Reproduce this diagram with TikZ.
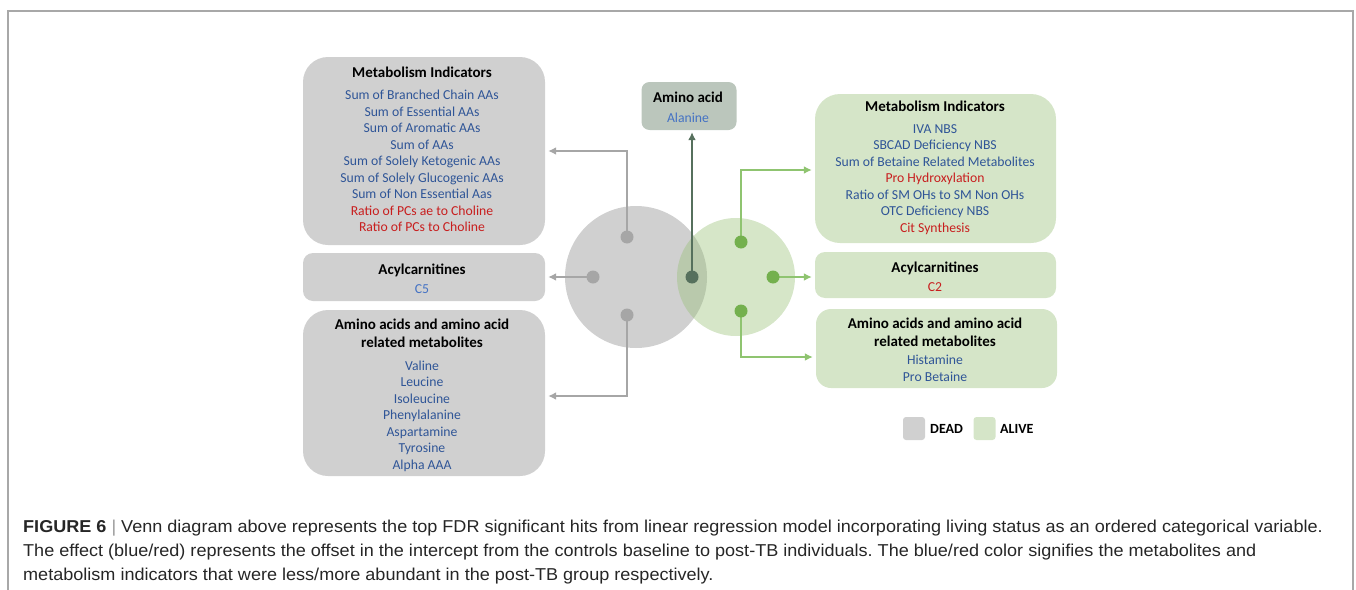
\documentclass[tikz,border=0pt]{standalone}
\usepackage{fontspec}
\setmainfont{Carlito}
\newfontfamily\capfont[FakeStretch=1.05]{Liberation Sans}
\usetikzlibrary{arrows.meta,calc}
\definecolor{boxgray}{HTML}{D0D0D0}
\definecolor{boxgreen}{HTML}{D5E5C8}
\definecolor{circgreen}{RGB}{152,192,118}
\definecolor{aminobox}{HTML}{BBC6BC}
\definecolor{arrgray}{HTML}{A6A6A6}
\definecolor{arrgreen}{HTML}{8FC470}
\definecolor{dotgreen}{HTML}{74B04E}
\definecolor{darkgreen}{HTML}{56705D}
\definecolor{tblue}{HTML}{2F5597}
\definecolor{lblue}{HTML}{4472C4}
\definecolor{tred}{HTML}{C81E1E}
\definecolor{framec}{HTML}{A8A8A8}
\definecolor{captext}{HTML}{262626}
\frenchspacing
\begin{document}
\begin{tikzpicture}[x=1pt,y=-1pt,
  panel/.style={draw=none, inner sep=0pt},
  boxtext/.style={align=center, inner sep=0pt, anchor=north, text=tblue,
    font=\fontsize{13.7}{16.5}\selectfont},
  garrow/.style={draw=arrgray, line width=2.8pt, -{Latex[length=8pt,width=8pt]}},
  greenarrow/.style={draw=arrgreen, line width=2.6pt, -{Latex[length=8pt,width=8pt]}},
  darrow/.style={draw=darkgreen, line width=2.8pt, -{Latex[length=8pt,width=8pt]}},
  dotnode/.style={circle, inner sep=0pt, minimum size=13pt},
  swatch/.style={rounded corners=3pt, minimum width=22pt, minimum height=23pt, inner sep=0pt},
  legtext/.style={anchor=west, inner sep=0pt, font=\bfseries\fontsize{14}{16}\selectfont},
  captionline/.style={anchor=base west, inner sep=0pt, text=captext,
    font=\capfont\fontsize{17.2}{24}\selectfont}
]
\newcommand{\bt}[1]{{\color{black}\bfseries\fontsize{15}{16.5}\selectfont #1}}
\useasboundingbox (0,0) rectangle (1356,589);
% frame
\draw[framec, line width=1.3pt] (8,592) -- (8,11) -- (1353,11) -- (1353,592);

% boxes
\node[panel, fill=boxgray, rounded corners=25pt, minimum width=242pt, minimum height=188pt] (lmB) at (424,151) {};
\node[panel, fill=boxgray, rounded corners=10pt, minimum width=242pt, minimum height=48pt] (laB) at (424,277) {};
\node[panel, fill=boxgray, rounded corners=25pt, minimum width=242pt, minimum height=166pt] (lbB) at (424,393) {};
\node[panel, fill=aminobox, rounded corners=8pt, minimum width=95pt, minimum height=48pt] (acB) at (689,106) {};
\node[panel, fill=boxgreen, rounded corners=25pt, minimum width=241pt, minimum height=149pt] (rmB) at (935.5,168.5) {};
\node[panel, fill=boxgreen, rounded corners=10pt, minimum width=241pt, minimum height=46pt] (raB) at (935.5,275) {};
\node[panel, fill=boxgreen, rounded corners=15pt, minimum width=241pt, minimum height=79pt] (rbB) at (936.5,348.5) {};

% texts
\node[boxtext] (lmT) at (422,66.5) {\bt{Metabolism Indicators}\\[6pt]
Sum of Branched Chain AAs\\ Sum of Essential AAs\\ Sum of Aromatic AAs\\ Sum of AAs\\
Sum of Solely Ketogenic AAs\\ Sum of Solely Glucogenic AAs\\ Sum of Non Essential Aas\\
{\color{tred}Ratio of PCs ae to Choline}\\ {\color{tred}Ratio of PCs to Choline}};
\node[boxtext] (laT) at (422,263.5) {\bt{Acylcarnitines}\\[2.5pt]
{\color{lblue}C5}};
\node[boxtext] (lbT) at (422,318.5) {\bt{Amino acids and amino acid}\\[1.5pt]
\bt{related metabolites}\\[6.5pt]
Valine\\ Leucine\\ Isoleucine\\ Phenylalanine\\ Aspartamine\\ Tyrosine\\ Alpha AAA};
\node[boxtext] (acT) at (688,91.5) {\bt{Amino acid}\\[3.5pt]
{\color{lblue}Alanine}};
\node[boxtext] (rmT) at (935,100.5) {\bt{Metabolism Indicators}\\[5.5pt]
IVA NBS\\ SBCAD Deficiency NBS\\ Sum of Betaine Related Metabolites\\
{\color{tred}Pro Hydroxylation}\\ Ratio of SM OHs to SM Non OHs\\ OTC Deficiency NBS\\
{\color{tred}Cit Synthesis}};
\node[boxtext] (raT) at (935,261.5) {\bt{Acylcarnitines}\\[2.5pt]
{\color{tred}C2}};
\node[boxtext] (rbT) at (935,317.5) {\bt{Amino acids and amino acid}\\[1.5pt]
\bt{related metabolites}\\[1.5pt]
Histamine\\[0.5pt] Pro Betaine};

% Venn circles
\fill[boxgray] (636,277) circle[radius=71pt];
\fill[circgreen, fill opacity=0.4] (736,277) circle[radius=59pt];

% dot positions
\coordinate (g1) at (627,237);
\coordinate (g2) at (593,277);
\coordinate (g3) at (627,315);
\coordinate (c1) at (692,277);
\coordinate (r1) at (741,242);
\coordinate (r2) at (773,277);
\coordinate (r3) at (741,311);

% connectors
\draw[garrow] (g1) |- ($(lmB.east)+(3,0)$);
\draw[garrow] (g2) -- ($(g2 -| laB.east)+(3,0)$);
\draw[garrow] (g3) |- ($(lbB.east)+(3,3)$);
\draw[darrow] (c1) -- ($(c1 |- acB.south)+(0,2)$);
\draw[greenarrow] (r1) |- ($(rmB.west)+(-3,1.5)$);
\draw[greenarrow] (r2) -- ($(r2 -| raB.west)+(-3,0)$);
\draw[greenarrow] (r3) |- ($(rbB.west)+(-3,8.5)$);

% dots
\node[dotnode, fill=arrgray] (g1d) at (g1) {};
\node[dotnode, fill=arrgray] (g2d) at (g2) {};
\node[dotnode, fill=arrgray] (g3d) at (g3) {};
\node[dotnode, fill=darkgreen] (c1d) at (c1) {};
\node[dotnode, fill=dotgreen] (r1d) at (r1) {};
\node[dotnode, fill=dotgreen] (r2d) at (r2) {};
\node[dotnode, fill=dotgreen] (r3d) at (r3) {};

% legend
\node[swatch, fill=boxgray] (sw1) at (914,428.5) {};
\node[legtext] (lt1) at (930,429) {DEAD};
\node[swatch, fill=boxgreen] (sw2) at (984.5,428.5) {};
\node[legtext] (lt2) at (1000,429) {ALIVE};

% caption
\node[captionline] (cap1) at (23,532) {{\bfseries FIGURE 6} {\color{gray!80}|} Venn diagram above represents the top FDR significant hits from linear regression model incorporating living status as an ordered categorical variable.};
\node[captionline] (cap2) at (23,556) {The effect (blue/red) represents the offset in the intercept from the controls baseline to post-TB individuals. The blue/red color signifies the metabolites and};
\node[captionline] (cap3) at (23,580) {metabolism indicators that were less/more abundant in the post-TB group respectively.};
\end{tikzpicture}
\end{document}
